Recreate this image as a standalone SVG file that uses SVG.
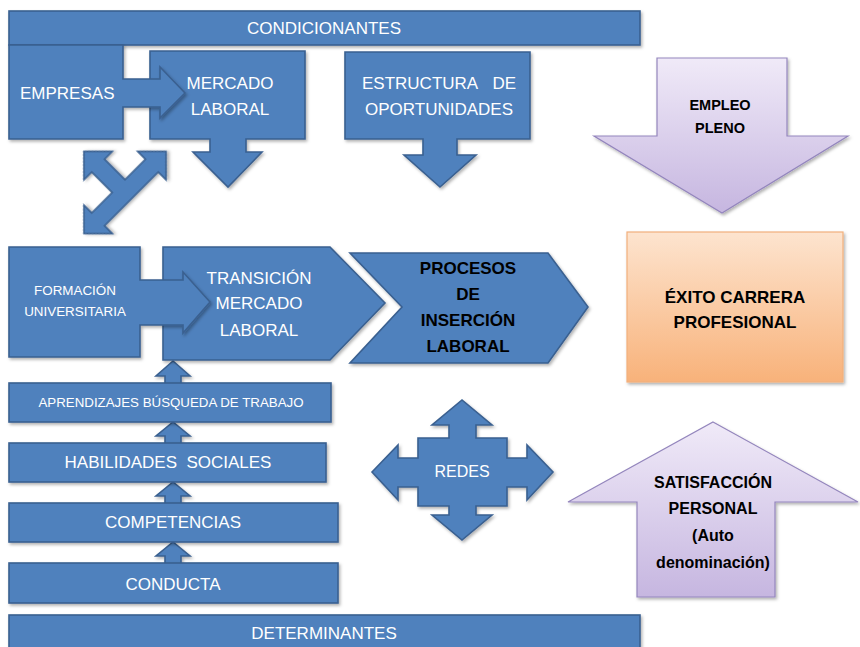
<svg xmlns="http://www.w3.org/2000/svg" width="860" height="647" viewBox="0 0 860 647">
<defs>
<linearGradient id="gPurple" x1="0" y1="0" x2="0" y2="1">
<stop offset="0" stop-color="#f0eaf8"/>
<stop offset="1" stop-color="#c6b6e0"/>
</linearGradient>
<linearGradient id="gOrange" x1="0" y1="0" x2="0" y2="1">
<stop offset="0" stop-color="#fde4cf"/>
<stop offset="1" stop-color="#f8b27a"/>
</linearGradient>
<filter id="sh" x="-10%" y="-10%" width="130%" height="130%">
<feDropShadow dx="1.5" dy="2" stdDeviation="1.5" flood-color="#000" flood-opacity="0.3"/>
</filter>
</defs>
<style>
.blue{fill:#4f81bd;stroke:#3a6090;stroke-width:1.6;stroke-linejoin:miter;filter:url(#sh)}
.purple{fill:url(#gPurple);stroke:#9486bd;stroke-width:1.2;filter:url(#sh)}
.orange{fill:url(#gOrange);stroke:#f2b07c;stroke-width:1.2;filter:url(#sh)}
text{font-family:"Liberation Sans",Arial,sans-serif}
.w{fill:#ffffff;font-size:17px;text-anchor:middle}
.k{fill:#000000;font-weight:bold;font-size:17px;text-anchor:middle}
</style>
<rect width="860" height="647" fill="#ffffff"/>

<g id="connectors">
<path class="blue" transform="translate(125,192.5) rotate(-45)" d="M-38,9 L-38,20 L-58,0 L-38,-20 L-38,-9 L-9,-9 L-9,-38 L-20,-38 L0,-58 L20,-38 L9,-38 L9,-9 L38,-9 L38,-20 L58,0 L38,20 L38,9 Z"/>
<path class="blue" d="M165,388 V376 H156 L173,361 L190,376 H181 V388 Z"/>
<path class="blue" d="M165,448 V436 H156 L173,422 L190,436 H181 V448 Z"/>
<path class="blue" d="M165,508 V496 H156 L173,482 L190,496 H181 V508 Z"/>
<path class="blue" d="M165,568 V556 H156 L173,542 L190,556 H181 V568 Z"/>
</g>

<g id="condicionantes">
<rect class="blue" x="9" y="11" width="631" height="34"/>
<text class="w" x="324" y="34">CONDICIONANTES</text>
</g>

<g id="mercado-laboral">
<path class="blue" d="M150,51 H305 V139 H246 V152 H262 L228,187 L193,152 H210 V139 H150 Z"/>
<text class="w" x="230" y="89">MERCADO</text>
<text class="w" x="230" y="115">LABORAL</text>
</g>

<g id="empresas">
<path class="blue" d="M9,45 H123 V79 H160 V67 L185,93 L160,118 V107 H123 V139 H9 Z"/>
<text class="w" x="20" y="99" style="text-anchor:start">EMPRESAS</text>
</g>

<g id="estructura">
<path class="blue" d="M345,52 H530 V139 H457 V155 H476 L440,187 L404,155 H423 V139 H345 Z"/>
<text class="w" x="362" y="89" style="text-anchor:start">ESTRUCTURA</text>
<text class="w" x="516" y="89" style="text-anchor:end">DE</text>
<text class="w" x="439" y="115">OPORTUNIDADES</text>
</g>

<g id="empleo-pleno">
<path class="purple" d="M657,58 H787 V136 H848 L722,213 L594,136 H657 Z"/>
<text class="k" x="720" y="110" style="font-size:14.5px">EMPLEO</text>
<text class="k" x="720" y="133" style="font-size:14.5px">PLENO</text>
</g>

<g id="exito">
<rect class="orange" x="627" y="232" width="216" height="150"/>
<text class="k" x="735" y="303">ÉXITO CARRERA</text>
<text class="k" x="735" y="328">PROFESIONAL</text>
</g>

<g id="transicion">
<path class="blue" d="M163,247 H330 L385,303 L330,360 H163 Z"/>
<text class="w" x="259" y="284">TRANSICIÓN</text>
<text class="w" x="259" y="309">MERCADO</text>
<text class="w" x="259" y="336">LABORAL</text>
</g>

<g id="formacion">
<path class="blue" d="M9,247 H140 V280 H183 V272 L210,302 L183,333 V325 H140 V357 H9 Z"/>
<text class="w" x="75" y="295" style="font-size:13.4px">FORMACIÓN</text>
<text class="w" x="75" y="316" style="font-size:13.4px">UNIVERSITARIA</text>
</g>

<g id="procesos">
<path class="blue" d="M350,253 H548 L588,307 L548,363 H350 L402,307 Z"/>
<text class="k" x="468" y="274">PROCESOS</text>
<text class="k" x="468" y="300">DE</text>
<text class="k" x="468" y="326">INSERCIÓN</text>
<text class="k" x="468" y="352">LABORAL</text>
</g>

<g id="aprendizajes">
<rect class="blue" x="9" y="383" width="322" height="39"/>
<text class="w" x="171" y="407" style="font-size:13.3px">APRENDIZAJES BÚSQUEDA DE TRABAJO</text>
</g>

<g id="habilidades">
<rect class="blue" x="9" y="443" width="317" height="39"/>
<text class="w" x="168" y="468" xml:space="preserve">HABILIDADES  SOCIALES</text>
</g>

<g id="competencias">
<rect class="blue" x="9" y="503" width="329" height="39"/>
<text class="w" x="173" y="528">COMPETENCIAS</text>
</g>

<g id="conducta">
<rect class="blue" x="9" y="563" width="329" height="40"/>
<text class="w" x="173" y="590">CONDUCTA</text>
</g>

<g id="determinantes">
<rect class="blue" x="9" y="615" width="631" height="36"/>
<text class="w" x="324" y="639">DETERMINANTES</text>
</g>

<g id="redes">
<path class="blue" d="M372,472 L398,445 V458 H418 V438 H449 V425 H432 L462,400 L492,425 H476 V438 H507 V458 H527 V445 L553,472 L527,500 V487 H507 V506 H476 V515 H492 L462,540 L432,515 H449 V506 H418 V487 H398 V500 Z"/>
<text class="w" x="462" y="477" style="font-size:16px">REDES</text>
</g>

<g id="satisfaccion">
<path class="purple" d="M713,422 L858,502 H775 V597 H637 V502 H568 Z"/>
<text class="k" x="713" y="488" style="font-size:16px">SATISFACCIÓN</text>
<text class="k" x="713" y="514" style="font-size:16px">PERSONAL</text>
<text class="k" x="713" y="541" style="font-size:16px">(Auto</text>
<text class="k" x="713" y="568" style="font-size:16px">denominación)</text>
</g>
</svg>
